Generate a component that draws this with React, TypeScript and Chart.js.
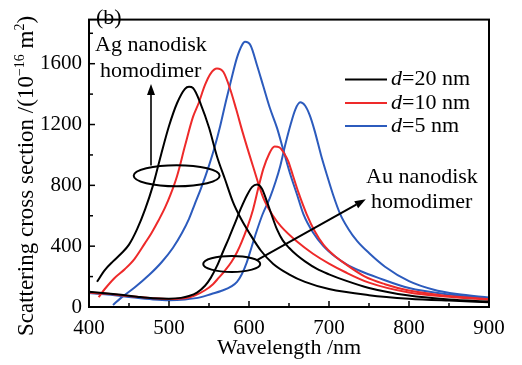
import React, { useEffect, useRef } from "react";
import { Chart, registerables } from "chart.js";

Chart.register(...registerables);

// ---- data (wavelength in nm, scattering cross section in 1e-16 m^2) ----
const agD20Wl = [410, 420, 430, 440, 450, 460, 470, 480, 490, 500, 510, 520, 525, 530, 540, 550, 560, 570, 580, 590, 600, 615, 630, 650, 670, 700, 750, 800, 850, 900];
const agD20Val = [166, 244, 300, 350, 410, 510, 640, 800, 1000, 1190, 1340, 1435, 1448, 1440, 1330, 1180, 990, 840, 690, 580, 490, 370, 285, 215, 165, 118, 78, 55, 42, 32];

const agD10Wl = [412, 420, 432, 445, 457, 470, 478, 487, 495, 502, 510, 520, 530, 537, 545, 552, 560, 568, 576, 584, 592, 605, 618, 630, 640, 660, 680, 700, 720, 750, 800, 850, 900];
const agD10Val = [65, 120, 191, 250, 317, 420, 485, 570, 653, 740, 860, 1060, 1250, 1340, 1460, 1535, 1568, 1545, 1440, 1300, 1150, 926, 716, 600, 530, 430, 350, 285, 230, 160, 95, 67, 48];

const agD5Wl = [430, 440, 457, 475, 491, 505, 516, 525, 532, 540, 550, 557, 564, 571, 578, 585, 591, 595, 602, 610, 618, 626, 635, 643, 651, 660, 668, 680, 693, 708, 722, 740, 760, 800, 850, 900];
const agD5Val = [13, 60, 128, 210, 296, 390, 485, 580, 674, 780, 930, 1050, 1190, 1350, 1500, 1640, 1720, 1744, 1720, 1590, 1450, 1310, 1178, 1030, 883, 740, 611, 490, 401, 330, 280, 235, 195, 125, 82, 55];

const auD20Wl = [400, 420, 440, 460, 480, 500, 515, 525, 535, 545, 552, 560, 568, 575, 582, 590, 598, 604, 610, 616, 622, 628, 635, 642, 650, 660, 670, 685, 700, 720, 750, 800, 850, 900];
const auD20Val = [100, 90, 80, 68, 58, 55, 60, 72, 95, 140, 190, 270, 370, 455, 545, 650, 740, 790, 805, 780, 700, 610, 510, 440, 390, 340, 300, 250, 215, 175, 125, 75, 50, 36];

const auD10Wl = [400, 420, 450, 480, 500, 520, 532, 545, 555, 562, 570, 578, 585, 591, 598, 605, 612, 618, 625, 632, 638, 644, 649, 655, 662, 672, 682, 693, 705, 720, 745, 770, 800, 850, 900];
const auD10Val = [95, 88, 72, 58, 53, 58, 75, 110, 150, 191, 240, 296, 360, 430, 525, 640, 790, 910, 1005, 1055, 1050, 1010, 960, 863, 750, 611, 500, 410, 345, 285, 200, 150, 108, 72, 52];

const auD5Wl = [400, 420, 450, 480, 500, 520, 540, 553, 565, 578, 585, 591, 597, 603, 609, 617, 626, 633, 639, 645, 652, 658, 664, 670, 676, 682, 690, 697, 705, 714, 724, 735, 750, 770, 800, 830, 860, 900];
const auD5Val = [92, 84, 66, 50, 45, 50, 65, 86, 105, 135, 165, 215, 290, 390, 490, 610, 716, 820, 926, 1060, 1200, 1300, 1346, 1325, 1260, 1160, 1000, 875, 740, 611, 515, 435, 355, 265, 170, 115, 85, 63];

const xTickValues = [400, 500, 600, 700, 800, 900];
const yTickValues = [0, 400, 800, 1200, 1600];
const legendLabels = ["20", "10", "5"];
const legendColors = ["#000000", "#ee2a2a", "#2c5bbd"];

const FONT = '"Liberation Serif", "DejaVu Serif", serif';

function toPoints(xs: number[], ys: number[]) {
  return xs.map((x, i) => ({ x, y: ys[i] }));
}

function arrow(ctx: CanvasRenderingContext2D, x1: number, y1: number, x2: number, y2: number) {
  const ang = Math.atan2(y2 - y1, x2 - x1);
  const head = 11;
  const half = 4;
  const bx = x2 - head * Math.cos(ang);
  const by = y2 - head * Math.sin(ang);
  ctx.beginPath();
  ctx.moveTo(x1, y1);
  ctx.lineTo(bx, by);
  ctx.stroke();
  ctx.beginPath();
  ctx.moveTo(x2, y2);
  ctx.lineTo(bx + half * Math.sin(ang), by - half * Math.cos(ang));
  ctx.lineTo(bx - half * Math.sin(ang), by + half * Math.cos(ang));
  ctx.closePath();
  ctx.fill();
}

const decorPlugin = {
  id: "decor",
  afterDraw(chart: any) {
    const { ctx, chartArea, scales } = chart;
    const xs = scales.x;
    const ys = scales.y;
    ctx.save();
    ctx.strokeStyle = "#000";
    ctx.fillStyle = "#000";
    // frame
    ctx.lineWidth = 2;
    ctx.strokeRect(chartArea.left, chartArea.top, chartArea.right - chartArea.left, chartArea.bottom - chartArea.top);
    // inner ticks
    ctx.lineWidth = 1.5;
    for (let v = 450; v < 900; v += 50) {
      const px = xs.getPixelForValue(v);
      const len = v % 100 === 0 ? 6 : 4;
      ctx.beginPath();
      ctx.moveTo(px, chartArea.bottom);
      ctx.lineTo(px, chartArea.bottom - len);
      ctx.stroke();
    }
    for (let v = 200; v <= 1800; v += 200) {
      const py = ys.getPixelForValue(v);
      const len = v % 400 === 0 ? 6 : 4;
      ctx.beginPath();
      ctx.moveTo(chartArea.left, py);
      ctx.lineTo(chartArea.left + len, py);
      ctx.stroke();
    }

    // ellipses and arrows
    ctx.lineWidth = 2;
    ctx.beginPath();
    ctx.ellipse(xs.getPixelForValue(509.6), ys.getPixelForValue(863), 43, 10.5, 0, 0, Math.PI * 2);
    ctx.stroke();
    ctx.beginPath();
    ctx.ellipse(xs.getPixelForValue(578.4), ys.getPixelForValue(283), 28.5, 8, 0, 0, Math.PI * 2);
    ctx.stroke();
    ctx.lineWidth = 1.6;
    arrow(ctx, xs.getPixelForValue(477.5), ys.getPixelForValue(930), xs.getPixelForValue(477.5), ys.getPixelForValue(1467));
    ctx.lineWidth = 2;
    arrow(ctx, xs.getPixelForValue(610), ys.getPixelForValue(308), xs.getPixelForValue(746), ys.getPixelForValue(708));

    // texts
    ctx.textBaseline = "middle";
    ctx.textAlign = "left";
    ctx.font = `22px ${FONT}`;
    ctx.fillText("(b)", 96, 18);
    ctx.fillText("Ag nanodisk", 95, 45);
    ctx.fillText("homodimer", 100, 71);
    ctx.fillText("Au nanodisk", 366, 177);
    ctx.fillText("homodimer", 371, 202);

    // legend
    const ly = [79.5, 103, 126];
    for (let i = 0; i < 3; i++) {
      ctx.strokeStyle = legendColors[i];
      ctx.lineWidth = 2;
      ctx.beginPath();
      ctx.moveTo(345, ly[i]);
      ctx.lineTo(387, ly[i]);
      ctx.stroke();
      ctx.font = `italic 22px ${FONT}`;
      ctx.fillText("d", 391, ly[i]);
      const dw = ctx.measureText("d").width;
      ctx.font = `22px ${FONT}`;
      ctx.fillText("=" + legendLabels[i] + " nm", 391 + dw, ly[i]);
    }

    // y-axis title with superscripts
    const segs = [
      { t: "Scattering cross section /(10", s: 23, dy: 0 },
      { t: "\u221216", s: 14, dy: -9 },
      { t: " m", s: 23, dy: 0 },
      { t: "2", s: 14, dy: -9 },
      { t: ")", s: 23, dy: 0 },
    ];
    let total = 0;
    for (const sg of segs) {
      ctx.font = `${sg.s}px ${FONT}`;
      total += ctx.measureText(sg.t).width;
    }
    ctx.translate(33, 176);
    ctx.rotate(-Math.PI / 2);
    ctx.textBaseline = "alphabetic";
    ctx.fillStyle = "#000";
    let cx = -total / 2;
    for (const sg of segs) {
      ctx.font = `${sg.s}px ${FONT}`;
      ctx.fillText(sg.t, cx, sg.dy);
      cx += ctx.measureText(sg.t).width;
    }
    ctx.restore();
  },
};

export default function App() {
  const ref = useRef<HTMLCanvasElement | null>(null);
  useEffect(() => {
    if (!ref.current) return;
    const ds = (label: string, xs: number[], ys: number[], color: string) => ({
      label,
      data: toPoints(xs, ys),
      borderColor: color,
      backgroundColor: color,
      borderWidth: 2,
      pointRadius: 0,
      fill: false,
      cubicInterpolationMode: "monotone" as const,
    });
    const chart = new Chart(ref.current, {
      type: "line",
      data: {
        datasets: [
          ds("Ag d=20 nm", agD20Wl, agD20Val, legendColors[0]),
          ds("Au d=20 nm", auD20Wl, auD20Val, legendColors[0]),
          ds("Ag d=10 nm", agD10Wl, agD10Val, legendColors[1]),
          ds("Au d=10 nm", auD10Wl, auD10Val, legendColors[1]),
          ds("Ag d=5 nm", agD5Wl, agD5Val, legendColors[2]),
          ds("Au d=5 nm", auD5Wl, auD5Val, legendColors[2]),
        ],
      },
      options: {
        responsive: false,
        animation: false,
        layout: { padding: { left: 0, right: 33, top: 7, bottom: 0 } },
        plugins: { legend: { display: false }, tooltip: { enabled: false } },
        scales: {
          x: {
            type: "linear",
            min: 400,
            max: 900,
            afterBuildTicks: (s: any) => {
              s.ticks = xTickValues.map((v) => ({ value: v }));
            },
            afterFit: (s: any) => {
              s.height = 58;
            },
            grid: { display: false, drawTicks: false },
            border: { display: false },
            ticks: {
              color: "#000",
              font: { family: FONT, size: 21 },
              padding: 9,
              maxRotation: 0,
              callback: (v: any) => String(v),
            },
            title: {
              display: true,
              text: "Wavelength /nm",
              color: "#000",
              font: { family: FONT, size: 22 },
              padding: { top: 0, bottom: 4 },
            },
          },
          y: {
            type: "linear",
            min: 0,
            max: 1890,
            afterBuildTicks: (s: any) => {
              s.ticks = yTickValues.map((v) => ({ value: v }));
            },
            afterFit: (s: any) => {
              s.width = 89;
            },
            grid: { display: false, drawTicks: false },
            border: { display: false },
            ticks: {
              color: "#000",
              font: { family: FONT, size: 21 },
              padding: 7,
              callback: (v: any) => String(v),
            },
          },
        },
      },
      plugins: [decorPlugin],
    });
    let alive = true;
    if ((document as any).fonts && (document as any).fonts.load) {
      Promise.all([
        (document as any).fonts.load(`21px ${FONT}`),
        (document as any).fonts.load(`italic 21px ${FONT}`),
      ]).then(() => {
        if (alive) chart.update();
      });
    }
    return () => {
      alive = false;
      chart.destroy();
    };
  }, []);
  return (
    <div style={{ position: "absolute", left: 0, top: 0, width: 522, height: 365, background: "#fff" }}>
      <canvas ref={ref} width={522} height={365} style={{ display: "block" }} />
    </div>
  );
}
